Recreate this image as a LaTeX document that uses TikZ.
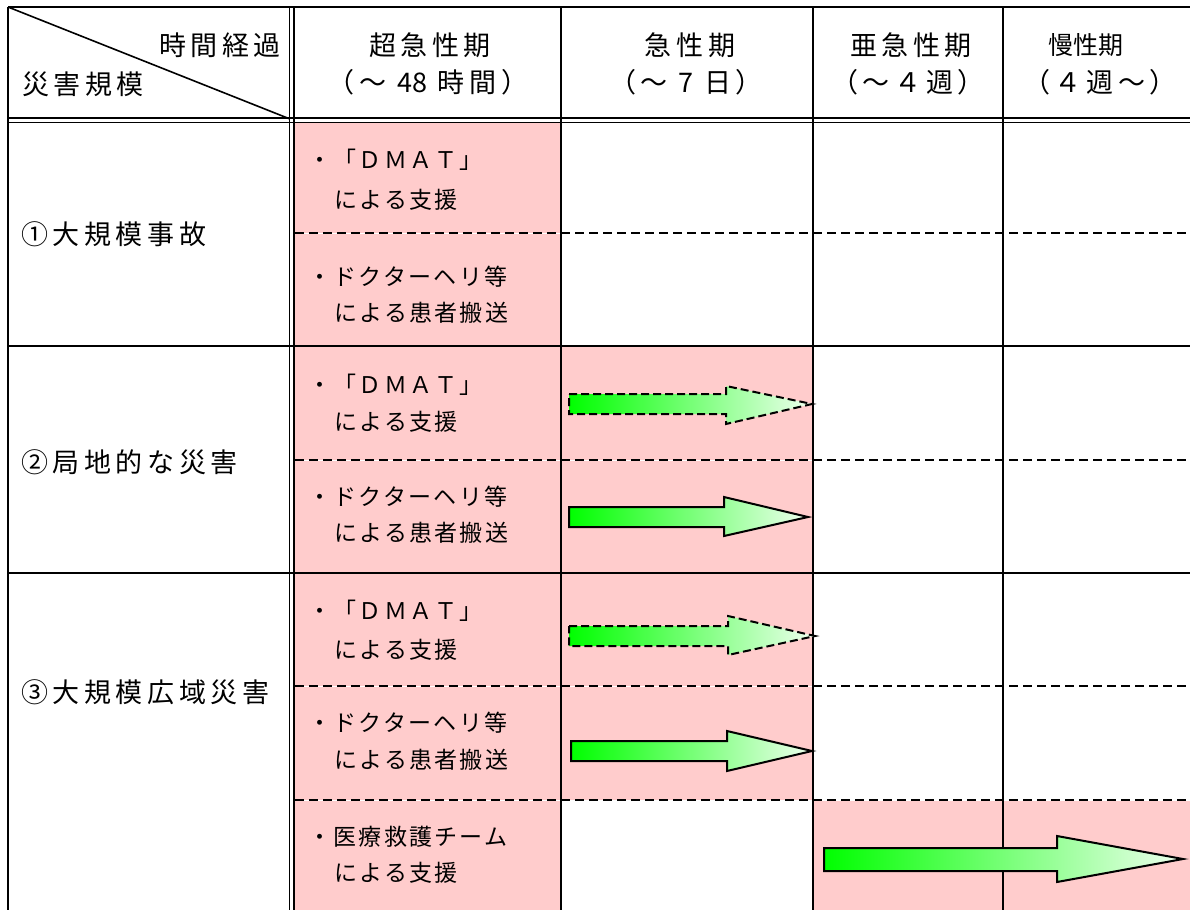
\documentclass[tikz,border=0pt]{standalone}
\usepackage{fontspec}
\newfontfamily\jpbig{Noto Sans CJK JP}[LetterSpace=17]
\newfontfamily\jptight{Noto Sans CJK JP}
\newfontfamily\jpsmall{Noto Sans CJK JP}[LetterSpace=10]
\definecolor{pinkc}{RGB}{255,204,204}
\definecolor{arrL}{RGB}{0,255,0}
\definecolor{arrR}{RGB}{238,255,238}
\begin{document}
\begin{tikzpicture}[x=1pt,y=-1pt,
  gridline/.style={line width=2.4pt},
  thinline/.style={line width=1.8pt},
  dline/.style={line width=2pt, dash pattern=on 9pt off 5pt},
  big/.style={font=\jpbig\fontsize{27}{30}\selectfont, inner sep=0pt},
  bigtight/.style={font=\jptight\fontsize{25}{30}\selectfont, inner sep=0pt},
  small/.style={font=\jpsmall\fontsize{23}{26}\selectfont, inner sep=0pt, anchor=west},
  arr/.style={draw, line width=2pt, left color=arrL, right color=arrR, line join=miter},
  darr/.style={arr, dash pattern=on 8pt off 4pt}]
\useasboundingbox (0,0) rectangle (1190,910);
\fill[white] (0,0) rectangle (1190,910);
% pink cells
\fill[pinkc] (294,122) rectangle (561,910);
\fill[pinkc] (561,346) rectangle (813,800);
\fill[pinkc] (813,800) rectangle (1190,910);
% dashed separators
\foreach \yy in {233,460,686,800} {
  \draw[white, line width=1pt] (295,\yy+0.5) -- (1190,\yy+0.5);
  \draw[dline] (295,\yy) -- (1190,\yy);
}
% grid
\draw[gridline] (8,7) -- (1190,7);
\draw[gridline] (8,7) -- (8,910);
\draw[thinline] (8,118) -- (1190,118);
\draw[thinline] (8,122.5) -- (1190,122.5);
\draw[thinline] (289.5,7) -- (289.5,910);
\draw[thinline] (294,7) -- (294,910);
\draw[gridline] (561,7) -- (561,910);
\draw[gridline] (813,7) -- (813,910);
\draw[gridline] (1003,7) -- (1003,910);
\draw[gridline] (8,346) -- (1190,346);
\draw[gridline] (8,573) -- (1190,573);
\draw[line width=1.6pt] (8,7) -- (290,119);
% header texts
\node[big, anchor=east] (hdrTime) at (281,45) {時間経過};
\node[big, anchor=west] (hdrScale) at (22,84) {災害規模};
\node[big] (h1a) at (430,45) {超急性期};
\node[big] (h1b) at (428,82) {（～ {\jptight 48} 時間）};
\node[big] (h2a) at (690,45) {急性期};
\node[big] (h2b) at (686,82) {（～ 7 日）};
\node[big] (h3a) at (911,45) {亜急性期};
\node[big] (h3b) at (908,82) {（～４週）};
\node[bigtight] (h4a) at (1086,45) {慢性期};
\node[big] (h4b) at (1100,82) {（４週～）};
% row labels
\node[big, anchor=west] (row1) at (21,234) {①大規模事故};
\node[big, anchor=west] (row2) at (21,462) {②局地的な災害};
\node[big, anchor=west] (row3) at (21,692) {③大規模広域災害};
% column 2 texts
\node[small] (t11a) at (308,160) {・「ＤＭＡＴ」};
\node[small] (t11b) at (334,200) {による支援};
\node[small] (t12a) at (308,277) {・ドクターヘリ等};
\node[small] (t12b) at (334,313) {による患者搬送};
\node[small] (t21a) at (308,385) {・「ＤＭＡＴ」};
\node[small] (t21b) at (334,422) {による支援};
\node[small] (t22a) at (308,497) {・ドクターヘリ等};
\node[small] (t22b) at (334,533) {による患者搬送};
\node[small] (t31a) at (308,611) {・「ＤＭＡＴ」};
\node[small] (t31b) at (334,650) {による支援};
\node[small] (t32a) at (308,723) {・ドクターヘリ等};
\node[small] (t32b) at (334,760) {による患者搬送};
\node[small] (t33a) at (308,837) {・医療救護チーム};
\node[small] (t33b) at (334,873) {による支援};
% arrows
\path[darr] (569,394) -- (726,394) -- (726,386) -- (812,404) -- (726,424) -- (726,414) -- (569,414) -- cycle;
\path[arr] (569,507) -- (724,507) -- (724,497) -- (808,517) -- (724,536) -- (724,527) -- (569,527) -- cycle;
\path[darr] (569,626) -- (728,626) -- (728,616) -- (815,636) -- (728,655) -- (728,646) -- (569,646) -- cycle;
\path[arr] (571,741) -- (727,741) -- (727,731) -- (812,751) -- (727,771) -- (727,761) -- (571,761) -- cycle;
\path[arr] (824,848) -- (1057,848) -- (1057,836) -- (1183,859) -- (1057,882) -- (1057,871) -- (824,871) -- cycle;
\end{tikzpicture}
\end{document}
